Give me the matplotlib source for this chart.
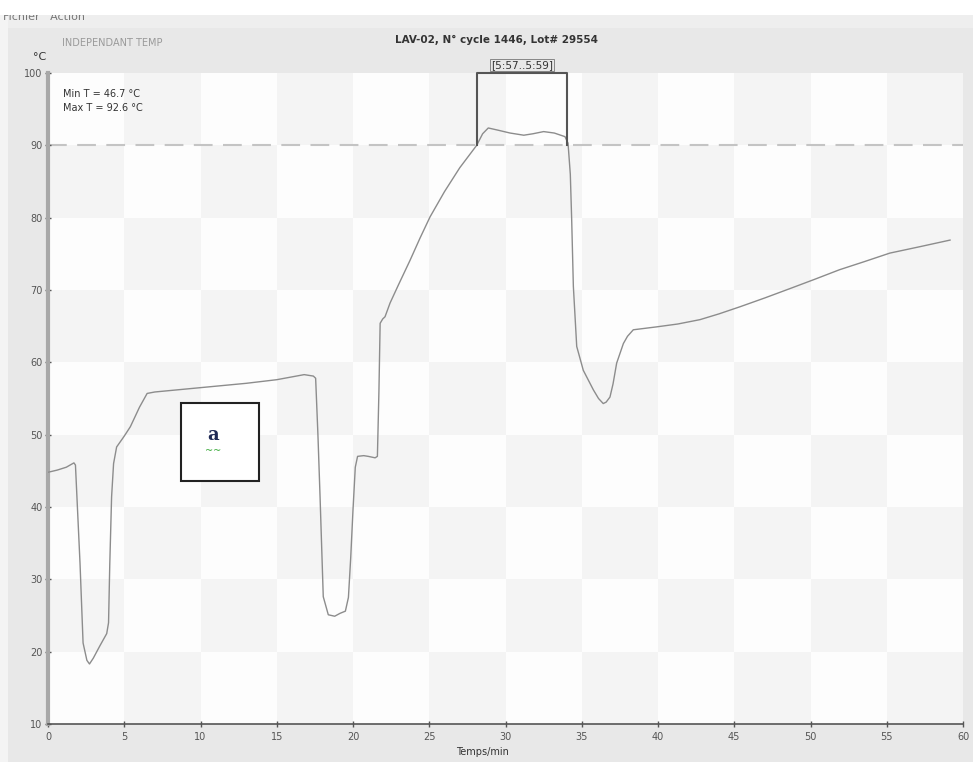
import matplotlib
matplotlib.use("Agg")
import matplotlib.pyplot as plt
from matplotlib.patches import Rectangle

# temperature trace (minutes, deg C)
time_min = [0.0, 0.6, 1.2, 1.7, 1.8, 2.1, 2.3, 2.55, 2.72, 2.97, 3.4, 3.85, 3.97,
            4.05, 4.17, 4.3, 4.5, 5.0, 5.4, 6.0, 6.5, 7.0, 9.0, 11.0, 13.0, 15.0,
            16.8, 17.4, 17.55, 17.7, 17.84, 18.05, 18.38, 18.8, 19.15, 19.5, 19.7,
            19.85, 20.0, 20.15, 20.3, 20.7, 21.0, 21.45, 21.6, 21.7, 21.78, 21.95,
            22.1, 22.43, 23.0, 23.74, 24.4, 25.05, 26.0, 27.0, 28.11, 28.5, 28.87,
            29.5, 30.3, 31.2, 31.8, 32.5, 33.2, 33.9, 34.1, 34.25, 34.34, 34.45,
            34.67, 35.1, 35.76, 36.1, 36.41, 36.6, 36.85, 37.05, 37.29, 37.73,
            38.0, 38.38, 39.9, 41.3, 42.75, 44.0, 45.4, 47.0, 48.66, 50.3, 51.9,
            53.5, 55.2, 57.2, 59.15]
temp_c = [44.8, 45.1, 45.5, 46.1, 45.8, 32.2, 21.2, 18.8, 18.3, 19.1, 20.8, 22.5,
          24.0, 32.0, 41.4, 46.0, 48.3, 49.8, 51.1, 53.8, 55.7, 55.9, 56.3, 56.7,
          57.1, 57.6, 58.3, 58.1, 57.8, 50.0, 41.4, 27.6, 25.1, 24.9, 25.3, 25.6,
          27.5, 33.0, 39.6, 45.5, 47.0, 47.1, 47.0, 46.8, 47.0, 56.0, 65.4, 66.0,
          66.3, 68.2, 70.8, 74.1, 77.2, 80.1, 83.6, 86.9, 90.0, 91.6, 92.4, 92.1,
          91.7, 91.4, 91.6, 91.9, 91.7, 91.2, 90.3, 86.0, 79.7, 70.5, 62.2, 58.9,
          56.2, 55.0, 54.3, 54.5, 55.2, 57.0, 59.9, 62.6, 63.6, 64.5, 64.9, 65.3,
          65.9, 66.7, 67.7, 68.9, 70.2, 71.5, 72.8, 73.9, 75.1, 76.0, 76.9]

x_ticks = [0, 5, 10, 15, 20, 25, 30, 35, 40, 45, 50, 55, 60]
y_ticks = [10, 20, 30, 40, 50, 60, 70, 80, 90, 100]
threshold = 90
window = (28.13, 34.03)
window_label = "[5:57..5:59]"
title = "LAV-02, N° cycle 1446, Lot# 29554"
channel = "INDEPENDANT TEMP"
stats = ["Min T = 46.7 °C", "Max T = 92.6 °C"]

plt.rcParams["font.family"] = ["DejaVu Sans"]

fig = plt.figure(figsize=(9.73, 7.62), dpi=100)
fig.patch.set_facecolor("#e8e8e8")

# window chrome: white strip on top and a menu bar
fig.patches.append(Rectangle((0, 1 - 28 / 762), 1, 13 / 762, transform=fig.transFigure,
                             facecolor="#eeeeee", edgecolor="none", zorder=0))
fig.patches.append(Rectangle((0, 0), 8 / 973, 1 - 15 / 762, transform=fig.transFigure,
                             facecolor="#f4f4f4", edgecolor="none", zorder=0))
fig.text(0.003, 1 - 22 / 762, "Fichier   Action", fontsize=8, color="#777777",
         va="bottom", ha="left")
fig.patches.append(Rectangle((0, 1 - 15 / 762), 1, 15 / 762, transform=fig.transFigure,
                             facecolor="white", edgecolor="none", zorder=5))

ax = fig.add_axes([48 / 973, 38 / 762, 915 / 973, 651 / 762])
ax.set_facecolor("#fdfdfd")
ax.set_xlim(0, 60)
ax.set_ylim(10, 100)

# checkerboard background, 5 min x 10 degC cells
for i, x0 in enumerate(x_ticks[:-1]):
    for j, y0 in enumerate(y_ticks[:-1]):
        if (i + j) % 2 == 1:
            ax.add_patch(Rectangle((x0, y0), 5, 10, facecolor="#f4f4f4",
                                   edgecolor="none", zorder=0))

ax.axhline(threshold, color="#c4c4c4", linestyle=(0, (9, 5)), linewidth=1.5, zorder=1)
ax.plot(time_min, temp_c, color="#8c8c8c", linewidth=1.0, zorder=3)

# selection window
ax.plot([window[0], window[0], window[1], window[1]],
        [threshold, 100, 100, threshold], color="#555555", linewidth=1.5,
        zorder=4, clip_on=False)
ax.text((window[0] + window[1]) / 2, 100.4, window_label, ha="center", va="bottom",
        fontsize=7.5, color="#333333",
        bbox=dict(boxstyle="square,pad=0.1", facecolor="none", edgecolor="#777777",
                  linewidth=0.6))

# annotation icon
ax.add_patch(Rectangle((8.72, 43.6), 5.12, 10.8, facecolor="white",
                       edgecolor="#222222", linewidth=1.5, zorder=5))
ax.text(10.8, 50.0, "a", ha="center", va="center", fontsize=13, fontweight="bold",
        family="DejaVu Serif", color="#1f2a55", zorder=6)
ax.text(10.8, 47.8, "~~", ha="center", va="center", fontsize=7, color="#3aaa3a",
        zorder=6)

ax.text(0.016, 0.975, "\n".join(stats), transform=ax.transAxes, ha="left", va="top",
        fontsize=7, color="#333333", linespacing=1.5)

ax.set_xticks(x_ticks)
ax.set_yticks(y_ticks)
ax.tick_params(axis="both", labelsize=7, colors="#555555", direction="inout", length=4,
               width=1)
ax.tick_params(axis="y", pad=2)
for s in ["top", "right"]:
    ax.spines[s].set_visible(False)
ax.spines["left"].set_color("#a8a8a8")
ax.spines["left"].set_linewidth(3)
ax.spines["bottom"].set_color("#555555")
ax.spines["bottom"].set_linewidth(1.2)

ax.set_xlabel("Temps/min", fontsize=7, color="#333333", labelpad=2)
ax.xaxis.set_label_coords(0.475, -0.035)
fig.text(40 / 973, 1 - 57 / 762, "°C", fontsize=8, color="#333333", ha="center",
         va="center")
fig.text(62 / 973, 1 - 43 / 762, channel, fontsize=7, color="#9a9a9a", ha="left",
         va="center")
fig.text(0.51, 1 - 40 / 762, title, fontsize=7.5, fontweight="bold", color="#333333",
         ha="center", va="center")

fig.savefig("out.png", dpi=100, facecolor=fig.get_facecolor())
